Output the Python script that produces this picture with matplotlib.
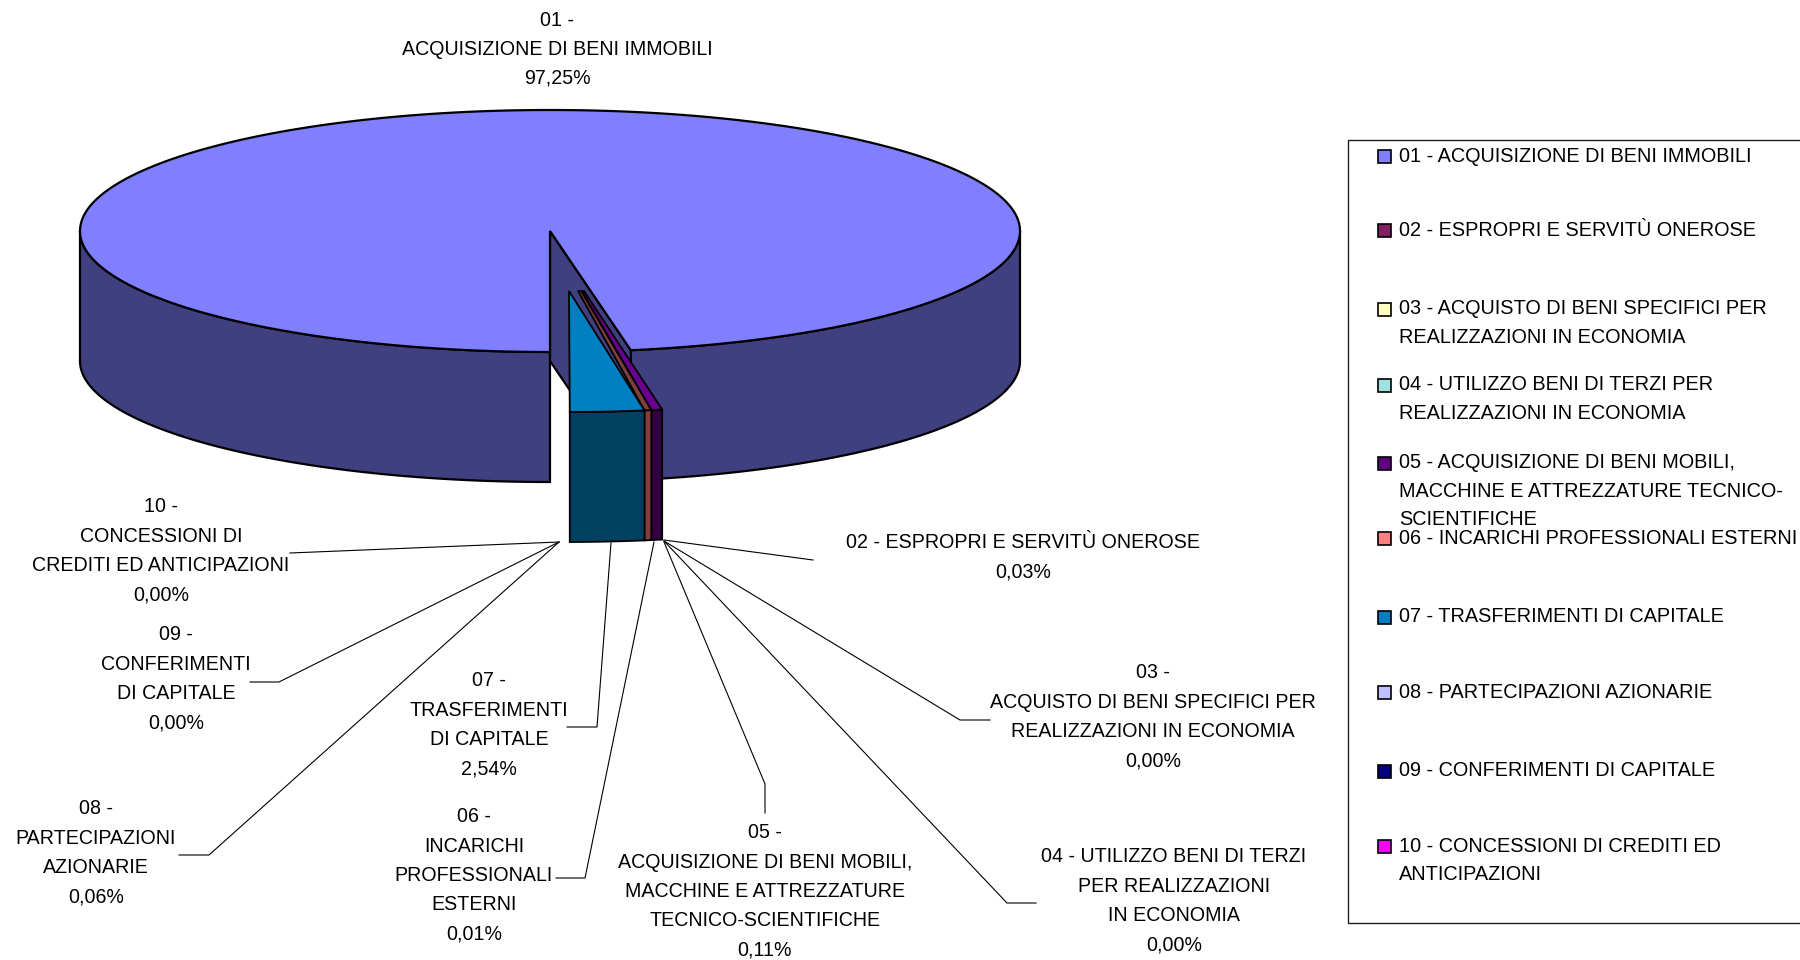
#!/usr/bin/env python3
"""Exploded 3D pie of capital spending categories, drawn in pixel coordinates."""

import matplotlib
matplotlib.use("Agg")
import matplotlib.pyplot as plt
import numpy as np
from matplotlib.patches import Polygon, Rectangle

plt.rcParams['font.family'] = ['Liberation Sans', 'DejaVu Sans']

codes = ['01', '02', '03', '04', '05', '06', '07', '08', '09', '10']
shares = [97.25, 0.03, 0.00, 0.00, 0.11, 0.01, 2.54, 0.06, 0.00, 0.00]
share_labels = ['97,25%', '0,03%', '0,00%', '0,00%', '0,11%', '0,01%', '2,54%', '0,06%', '0,00%', '0,00%']
pie_labels = [
    '01 -\nACQUISIZIONE DI BENI IMMOBILI',
    '02 - ESPROPRI E SERVITÙ ONEROSE',
    '03 -\nACQUISTO DI BENI SPECIFICI PER\nREALIZZAZIONI IN ECONOMIA',
    '04 - UTILIZZO BENI DI TERZI\nPER REALIZZAZIONI\nIN ECONOMIA',
    '05 -\nACQUISIZIONE DI BENI MOBILI,\nMACCHINE E ATTREZZATURE\nTECNICO-SCIENTIFICHE',
    '06 -\nINCARICHI\nPROFESSIONALI\nESTERNI',
    '07 -\nTRASFERIMENTI\nDI CAPITALE',
    '08 -\nPARTECIPAZIONI\nAZIONARIE',
    '09 -\nCONFERIMENTI\nDI CAPITALE',
    '10 -\nCONCESSIONI DI\nCREDITI ED ANTICIPAZIONI',
]
legend_labels = [
    '01 - ACQUISIZIONE DI BENI IMMOBILI',
    '02 - ESPROPRI E SERVITÙ ONEROSE',
    '03 - ACQUISTO DI BENI SPECIFICI PER\nREALIZZAZIONI IN ECONOMIA',
    '04 - UTILIZZO BENI DI TERZI PER\nREALIZZAZIONI IN ECONOMIA',
    '05 - ACQUISIZIONE DI BENI MOBILI,\nMACCHINE E ATTREZZATURE TECNICO-\nSCIENTIFICHE',
    '06 - INCARICHI PROFESSIONALI ESTERNI',
    '07 - TRASFERIMENTI DI CAPITALE',
    '08 - PARTECIPAZIONI AZIONARIE',
    '09 - CONFERIMENTI DI CAPITALE',
    '10 - CONCESSIONI DI CREDITI ED\nANTICIPAZIONI',
]
legend_colors = ['#8080FF', '#802060', '#FFFFC0', '#A0E0E0', '#600080',
                 '#FF8080', '#0080C0', '#C0C0FF', '#000080', '#FF00FF']

# layout, in reference pixels
CX, CY, RX, RY, DEPTH = 550, 231, 470, 121, 130
label_x = [557, 1023, 1153, 1174, 765, 474, 489, 96, 176, 161]
label_y = [20, 543, 673, 857, 833, 817, 681, 809, 635, 507]
LINE_PITCH = 29.2
LABEL_FONT = 14.1
LEGEND_FONT = 14.3
legend_row_y = [156, 230, 309, 385, 463, 538, 617, 692, 771, 846]
leaders = {
    '02': [(664, 540), (813, 560)],
    '03': [(664, 541), (960, 720), (990, 720)],
    '04': [(664, 541), (1007, 903), (1036, 903)],
    '05': [(664, 542), (765, 784), (765, 813)],
    '06': [(654, 542), (585, 878), (556, 878)],
    '07': [(611, 543), (597, 727), (567, 727)],
    '08': [(559, 542), (209, 855), (179, 855)],
    '09': [(559, 542), (279, 682), (250, 682)],
    '10': [(559, 542), (290, 553)],
}


def rim(ax_x, ax_y, t_deg):
    # t runs clockwise from the bottom of the ellipse
    t = np.radians(t_deg)
    return ax_x - RX * np.sin(t), ax_y + RY * np.cos(t)


def arc(ax_x, ax_y, t0, t1, n=200):
    x, y = rim(ax_x, ax_y, np.linspace(t0, t1, n))
    return np.column_stack([x, y])


fig = plt.figure(figsize=(18, 9.6), dpi=100)
ax = fig.add_axes([0, 0, 1, 1])
ax.set_xlim(0, 1800)
ax.set_ylim(960, 0)
ax.axis('off')

edge = dict(edgecolor='black', linewidth=1.6, joinstyle='miter')
angles = np.array(shares) * 3.6
ends = np.cumsum(angles)
starts = ends - angles

# big slice: outer wall, cut wall, then top
big_end = ends[0]
left_rim = arc(CX, CY, 0, 90)
ax.add_patch(Polygon(np.vstack([left_rim, left_rim[::-1] + [0, DEPTH]]), facecolor='#404080', **edge))
right_rim = arc(CX, CY, 270, big_end)
ax.add_patch(Polygon(np.vstack([right_rim, right_rim[::-1] + [0, DEPTH]]), facecolor='#404080', **edge))
p = np.array(rim(CX, CY, big_end))
ax.add_patch(Polygon([(CX, CY), p, p + [0, DEPTH], (CX, CY + DEPTH)], facecolor='#404080', **edge))
ax.add_patch(Polygon(np.vstack([[(CX, CY)], arc(CX, CY, 0, big_end, 500)]), facecolor='#8080FF', **edge))

# exploded small slices, outermost first; the thinnest get a minimum visible width
RIM_X, RIM_Y = CX + 18, CY + 60
t_hi = starts[6]
purple_w, brown_w = max(angles[4], 1.35), max(angles[5], 0.85)
small_slices = [
    dict(t0=t_hi - brown_w - purple_w, t1=t_hi - brown_w, top='#6A0090', side='#300040',
         tip=[(582, 291), (584, 291)], cut=0),
    dict(t0=t_hi - brown_w, t1=t_hi, top='#804040', side='#804040',
         tip=[(578, 291), (581, 291)], cut=11),
    dict(t0=t_hi, t1=ends[6], top='#0080C0', side='#004060',
         tip=[(569, 291)], cut=0),
]
for s in small_slices:
    outer = arc(RIM_X, RIM_Y, s['t0'], s['t1'], 40)
    lower = outer[::-1] + [0, DEPTH]
    lower[0, 1] -= 0
    lower[-1, 1] -= 0
    if s['cut']:
        # bottom of the cut face slants up to the left
        lower[-1, 1] -= s['cut']
    ax.add_patch(Polygon(np.vstack([outer, lower]), facecolor=s['side'],
                         edgecolor='black', linewidth=1.3, joinstyle='miter'))
    ax.add_patch(Polygon(np.vstack([s['tip'], outer]), facecolor=s['top'],
                         edgecolor='black', linewidth=1.3, joinstyle='miter'))

# leader lines and labels
for code, pts in leaders.items():
    xs, ys = zip(*pts)
    ax.plot(xs, ys, color='black', linewidth=0.8, solid_joinstyle='miter')

for i, text in enumerate(pie_labels):
    lines = text.split('\n') + [share_labels[i]]
    for j, line in enumerate(lines):
        ax.text(label_x[i], label_y[i] + j * LINE_PITCH, line, ha='center', va='center',
                fontsize=LABEL_FONT, color='black')

# legend box runs off the right edge of the picture
ax.add_patch(Rectangle((1348, 140), 470, 783, facecolor='none', edgecolor='#202020', linewidth=1.0))
for i, text in enumerate(legend_labels):
    y = legend_row_y[i]
    ax.add_patch(Rectangle((1378, y - 6), 13, 13, facecolor=legend_colors[i], edgecolor='black', linewidth=1.2))
    for j, line in enumerate(text.split('\n')):
        ax.text(1399, y + j * 28.3, line, ha='left', va='center', fontsize=LEGEND_FONT, color='black')

fig.savefig('out.png', dpi=100, facecolor='white')
